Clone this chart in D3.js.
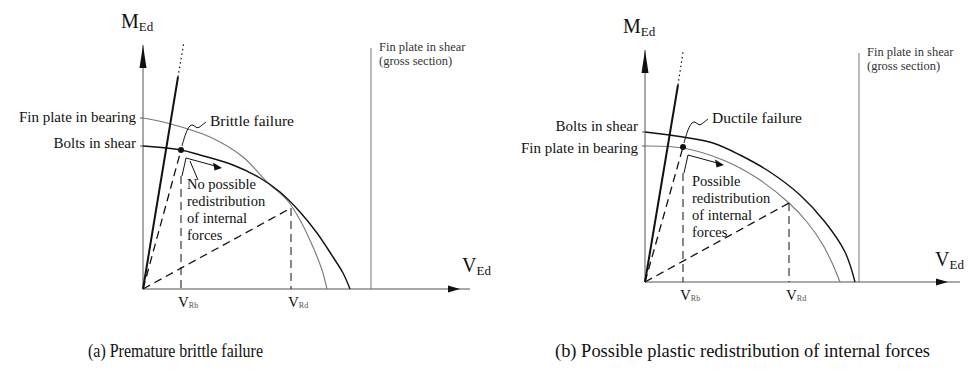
<!DOCTYPE html>
<html>
<head>
<meta charset="utf-8">
<script src="https://cdn.jsdelivr.net/npm/d3@7"></script>
<style>
  body { margin: 0; background: #fff; }
  text { font-family: "Liberation Serif", "DejaVu Serif", serif; fill: #111; }
</style>
</head>
<body>
<div id="chart"></div>
<script>
// interaction curves, [V, M] in drawing units
const bearingA = [[0, 17.1], [2.4, 16.6], [6.7, 15.2], [10, 13.2], [12.4, 10.7], [14.4, 8.9], [15.7, 6.9], [17, 4.2], [17.9, 1.9], [18.4, 0]];
const boltsA = [[0, 14.3], [3.8, 13.9], [5.7, 13.4], [9, 12.4], [11.7, 11.1], [13.7, 9.7], [15.7, 7.7], [17.4, 5.6], [19, 3.2], [20, 1.6], [20.7, 0]];
const bearingB = [[0, 13.6], [3.8, 13.4], [7.8, 12.2], [11.2, 10.4], [14.4, 7.9], [16.2, 6.0], [17.8, 3.7], [18.8, 1.7], [19.5, 0]];
const boltsB = [[0, 15.0], [3.8, 14.5], [6.8, 13.9], [9.5, 12.7], [12.5, 11.0], [15.5, 8.7], [18, 6.0], [20, 3.0], [21, 0]];

const steepA = [[0, 0], [3.5, 21.2]];
const steepDotA = [[3.5, 21.2], [4.1, 24.7]];
const steepB = [[0, 0], [3.3, 19.7]];
const steepDotB = [[3.3, 19.7], [3.8, 23.0]];

const failurePts = [[3.8, 13.9], [3.8, 13.5]];
const rdPts = [[14.8, 8.1], [14.4, 7.9]];
const shearLimit = [22.8, 21.4];

const captions = ["(a) Premature brittle failure", "(b) Possible plastic redistribution of internal forces"];
const failureLabels = ["Brittle failure", "Ductile failure"];
const redistLabels = [
  ["No possible", "redistribution", "of internal", "forces"],
  ["Possible", "redistribution", "of internal", "forces"]
];
const curveLabelsA = ["Fin plate in bearing", "Bolts in shear"];
const curveLabelsB = ["Bolts in shear", "Fin plate in bearing"];
const shearLabel = ["Fin plate in shear", "(gross section)"];

const W = 974, H = 372;
const svg = d3.select("#chart").append("svg")
  .attr("width", W).attr("height", H);

const panels = [
  { ox: 143, oy: 289, yTop: 24.4, xEnd: 32.7, arrowX: 31.7,
    grey: bearingA, black: boltsA, labels: curveLabelsA, labelStart: [17.1, 14.3], labelDy: [4, 2],
    steep: steepA, steepDot: steepDotA, leader: true,
    mY: 28, vEdX: 462, vEdY: 272, shearTextY: 51, caption: [88, 175] },
  { ox: 645, oy: 282, yTop: 23.2, xEnd: 31.5, arrowX: 30.3,
    grey: bearingB, black: boltsB, labels: curveLabelsB, labelStart: [15.0, 13.6], labelDy: [-1, 7],
    steep: steepB, steepDot: steepDotB, leader: false,
    mY: 33, vEdX: 935, vEdY: 266, shearTextY: 56, caption: [555, 375] }
];

panels.forEach((p, i) => {
  const x = d3.scaleLinear().domain([0, 10]).range([p.ox, p.ox + 100]);
  const y = d3.scaleLinear().domain([0, 10]).range([p.oy, p.oy - 100]);
  const g = svg.append("g");
  const line = d3.line().x(d => x(d[0])).y(d => y(d[1]));
  const smooth = d3.line().x(d => x(d[0])).y(d => y(d[1])).curve(d3.curveCatmullRom);

  // axes
  g.append("line").attr("x1", x(0)).attr("x2", x(0)).attr("y1", y(0)).attr("y2", y(p.yTop))
    .attr("stroke", "#555").attr("stroke-width", 1);
  g.append("path")
    .attr("d", `M${x(0)},${y(p.yTop)} L${x(0) - 3.5},${y(p.yTop) + 23} L${x(0) + 3.5},${y(p.yTop) + 23} Z`)
    .attr("fill", "#111");
  g.append("line").attr("x1", x(0)).attr("x2", x(p.xEnd)).attr("y1", y(0)).attr("y2", y(0))
    .attr("stroke", "#555").attr("stroke-width", 1.2);
  g.append("path")
    .attr("d", `M${x(p.arrowX)},${y(0)} L${x(p.arrowX) - 12},${y(0) - 3.5} L${x(p.arrowX) - 12},${y(0) + 3.5} Z`)
    .attr("fill", "#111");

  // axis titles
  const m = g.append("text").attr("x", p.ox - 22).attr("y", p.mY).attr("font-size", 20);
  m.append("tspan").text("M");
  m.append("tspan").attr("font-size", 13).attr("dy", 3).text("Ed");
  const v = g.append("text").attr("x", p.vEdX).attr("y", p.vEdY).attr("font-size", 20);
  v.append("tspan").text("V");
  v.append("tspan").attr("font-size", 13).attr("dy", 3).text("Ed");

  // fin plate in shear limit
  g.append("line").attr("x1", x(shearLimit[i])).attr("x2", x(shearLimit[i]))
    .attr("y1", y(0)).attr("y2", y(p.yTop - 0.3))
    .attr("stroke", "#777").attr("stroke-width", 1);
  shearLabel.forEach((t, k) => {
    g.append("text").attr("x", x(shearLimit[i]) + 8).attr("y", p.shearTextY + k * 14)
      .attr("font-size", 12.5).style("fill", "#333").text(t);
  });

  // interaction curves
  g.append("path").attr("d", smooth(p.grey))
    .attr("fill", "none").attr("stroke", "#777").attr("stroke-width", 1.1);
  g.append("path").attr("d", smooth(p.black))
    .attr("fill", "none").attr("stroke", "#111").attr("stroke-width", 1.4);

  // curve labels on M axis
  p.labels.forEach((t, k) => {
    g.append("text").attr("x", p.ox - 7).attr("y", y(p.labelStart[k]) + p.labelDy[k])
      .attr("text-anchor", "end").attr("font-size", 15).text(t);
    g.append("line").attr("x1", p.ox - 3).attr("x2", p.ox).attr("y1", y(p.labelStart[k])).attr("y2", y(p.labelStart[k]))
      .attr("stroke", "#555");
  });

  // steep elastic line
  g.append("path").attr("d", line(p.steep)).attr("stroke", "#111").attr("stroke-width", 2).attr("fill", "none");
  g.append("path").attr("d", line(p.steepDot)).attr("stroke", "#111").attr("stroke-width", 1.2)
    .attr("stroke-dasharray", "1.5,3").attr("fill", "none");

  const f = failurePts[i], r = rdPts[i];
  const dash = "8,5";
  // load paths
  g.append("path").attr("d", line([[0, 0], f])).attr("stroke", "#111").attr("stroke-width", 1.3)
    .attr("stroke-dasharray", dash).attr("fill", "none");
  g.append("path").attr("d", line([[0, 0], r])).attr("stroke", "#111").attr("stroke-width", 1.3)
    .attr("stroke-dasharray", dash).attr("fill", "none");
  // verticals
  g.append("line").attr("x1", x(f[0])).attr("x2", x(f[0])).attr("y1", y(f[1]) + 26).attr("y2", y(0))
    .attr("stroke", "#111").attr("stroke-dasharray", dash);
  g.append("line").attr("x1", x(r[0])).attr("x2", x(r[0])).attr("y1", y(r[1])).attr("y2", y(0))
    .attr("stroke", "#111").attr("stroke-dasharray", dash);

  // failure point
  g.append("circle").attr("cx", x(f[0])).attr("cy", y(f[1])).attr("r", 3).attr("fill", "#111");

  // squiggle leader to failure label
  const fx = x(f[0]), fy = y(f[1]);
  const sq = [[1, -4], [4, -15], [8, -24], [12, -26], [16, -21], [20, -24], [25, -28]];
  g.append("path").attr("d", d3.line().curve(d3.curveBasis)(sq.map(d => [fx + d[0], fy + d[1]])))
    .attr("fill", "none").attr("stroke", "#111").attr("stroke-width", 1);
  g.append("text").attr("x", fx + 29).attr("y", fy - 24).attr("font-size", 15.5).text(failureLabels[i]);

  // redistribution arrow
  const ar = [[1, 26], [5, 8], [38, 17]];
  g.append("path").attr("d", d3.line()(ar.map(d => [fx + d[0], fy + d[1]])))
    .attr("fill", "none").attr("stroke", "#111").attr("stroke-width", 1);
  const tip = [fx + 41, fy + 18];
  g.append("path")
    .attr("d", `M${tip[0]},${tip[1]} L${tip[0] - 9},${tip[1] - 5.5} L${tip[0] - 7.5},${tip[1] + 2.5} Z`)
    .attr("fill", "#111");
  if (p.leader) {
    g.append("line").attr("x1", fx + 9).attr("y1", fy + 11).attr("x2", fx + 17).attr("y2", fy + 30)
      .attr("stroke", "#111");
  }
  redistLabels[i].forEach((t, k) => {
    g.append("text").attr("x", fx + (i === 0 ? 6 : 9)).attr("y", fy + 39 + k * 17)
      .attr("font-size", 14.5).text(t);
  });

  // V labels under the axis
  [[f[0], "Rb"], [r[0], "Rd"]].forEach(d => {
    const t = g.append("text").attr("x", x(d[0]) - 3).attr("y", y(0) + 18).attr("font-size", 15);
    t.append("tspan").text("V");
    t.append("tspan").attr("font-size", 8).attr("dy", 1).style("fill", "#555").text(d[1]);
  });

  // caption
  g.append("text").attr("x", p.caption[0]).attr("y", 357).attr("font-size", 18)
    .attr("textLength", p.caption[1]).attr("lengthAdjust", "spacingAndGlyphs")
    .text(captions[i]);
});
</script>
</body>
</html>
